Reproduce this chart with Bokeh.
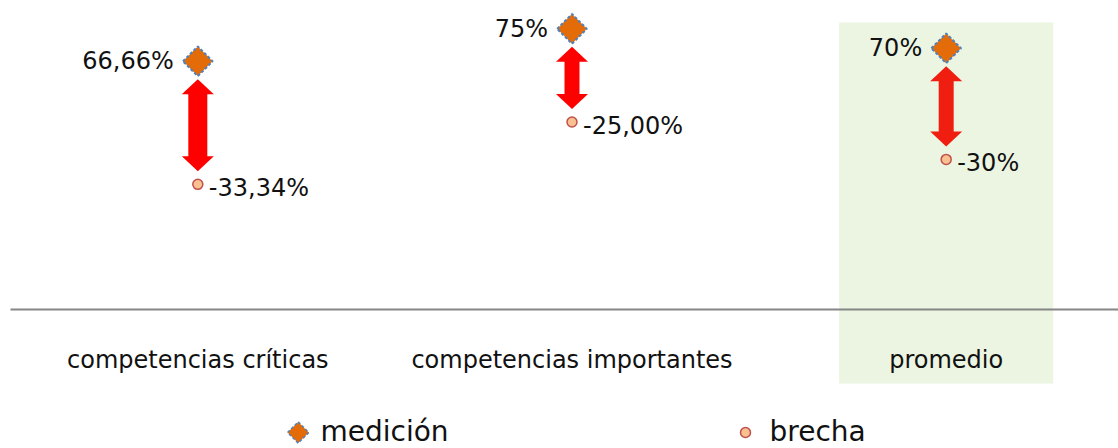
import math
from bokeh.plotting import figure
from bokeh.models import Range1d
from bokeh.core.properties import value
from bokeh.embed import file_html
from bokeh.resources import INLINE

# ---------------- data ----------------
categories = ["competencias críticas", "competencias importantes", "promedio"]
medicion = [66.66, 75.0, 70.0]
brecha = [-33.34, -25.0, -30.0]
medicion_labels = ["66,66%", "75%", "70%"]
brecha_labels = ["-33,34%", "-25,00%", "-30%"]
series_names = ["medición", "brecha"]
highlight = "promedio"

# ---------------- layout / style ----------------
W, H = 1118, 448
XS, XE = -0.5273, 2.4605          # category axis
Y1S, Y1E = -33.0, 82.3            # primary axis (medición)
Y2S, Y2E = -68.65, -8.76          # secondary axis (brecha)
AXIS_Y = 309
FONT = value("DejaVu Sans")

p = figure(width=W, height=H, x_range=Range1d(XS, XE), y_range=Range1d(Y1S, Y1E),
           min_border=0, toolbar_location=None, output_backend="svg",
           x_axis_location=None, y_axis_location=None,
           outline_line_color=None, background_fill_color="white",
           border_fill_color="white")
p.grid.visible = False
p.extra_y_ranges = {"brecha": Range1d(Y2S, Y2E), "px": Range1d(H, 0)}
p.extra_x_ranges = {"px": Range1d(0, W)}

idx = list(range(len(categories)))


def xpx(i):
    return (i - XS) / (XE - XS) * W


def ypx_med(v):
    return (Y1E - v) / (Y1E - Y1S) * H


def ypx_bre(b):
    return (Y2E - b) / (Y2E - Y2S) * H


# highlighted band behind "promedio"
hi = categories.index(highlight)
p.quad(left=[hi - 0.286], right=[hi + 0.286], top=[22], bottom=[383],
       y_range_name="px", fill_color="#EBF5E1", line_color=None)

# horizontal axis line
p.segment(x0=[10], x1=[W], y0=[AXIS_Y], y1=[AXIS_Y], x_range_name="px",
          y_range_name="px", line_color="#868686", line_width=2)

# category labels
p.text(x=idx, y=[359] * len(idx), text=categories, y_range_name="px",
       text_align="center", text_baseline="middle", text_font=FONT,
       text_font_size="24px", text_color="#111111")

# double arrows showing the gap
hw, hl = 16, 15
shaft = [9.5, 7.5, 7.5]
arrow_colors = ["#FF0000", "#FF0000", "#EF1E10"]
axs, ays = [], []
for i, (m, b) in enumerate(zip(medicion, brecha)):
    cx = xpx(i)
    top = ypx_med(m) + 18
    bot = ypx_bre(b) - 13
    sw = shaft[i]
    axs.append([cx, cx + hw, cx + sw, cx + sw, cx + hw, cx, cx - hw, cx - sw, cx - sw, cx - hw])
    ays.append([top, top + hl, top + hl, bot - hl, bot - hl, bot, bot - hl, bot - hl, top + hl, top + hl])
p.patches(xs=axs, ys=ays, x_range_name="px", y_range_name="px",
          fill_color=arrow_colors, line_color=None)

# medición markers (diamonds)
p.scatter(x=idx, y=medicion, marker="square", angle=math.pi / 4, size=21,
          fill_color="#E36C09", line_color="#4F81BD", line_width=2, line_dash="3 2")
p.text(x=idx, y=medicion, text=medicion_labels, x_offset=-24,
       text_align="right", text_baseline="middle", text_font=FONT,
       text_font_size="24px", text_color="#111111")

# brecha markers (circles)
p.scatter(x=idx, y=brecha, y_range_name="brecha", marker="circle", size=10,
          fill_color="#FAC090", line_color="#C0504D", line_width=1.5)
p.text(x=idx, y=brecha, y_range_name="brecha", text=brecha_labels, x_offset=11,
       y_offset=4, text_align="left", text_baseline="middle", text_font=FONT,
       text_font_size="24px", text_color="#111111")

# legend
p.scatter(x=[297.7], y=[432], x_range_name="px", y_range_name="px",
          marker="square", angle=math.pi / 4, size=15,
          fill_color="#E36C09", line_color="#4F81BD", line_width=1.5, line_dash="3 2")
p.scatter(x=[745], y=[432], x_range_name="px", y_range_name="px",
          marker="circle", size=10, fill_color="#FAC090", line_color="#C0504D",
          line_width=1.5)
p.text(x=[320, 769], y=[431, 431], text=series_names, x_range_name="px",
       y_range_name="px", text_align="left", text_baseline="middle",
       text_font=FONT, text_font_size="28px", text_color="#111111")

open("out.html", "w").write(file_html(p, INLINE))
